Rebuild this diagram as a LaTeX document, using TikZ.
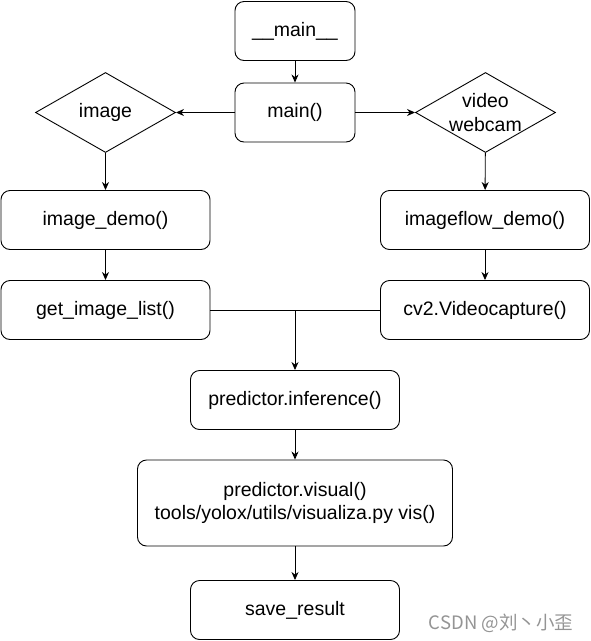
\documentclass[tikz,border=0pt]{standalone}
\usepackage{fontspec}
\setmainfont{Liberation Sans}
\newfontfamily\cjk{Noto Sans CJK SC}
\usetikzlibrary{arrows.meta,shapes.geometric}
\tikzset{
	block/.style={draw, rounded corners=9pt, line width=0.9pt, minimum width=209pt, minimum height=59pt, inner sep=0pt, align=center, font=\fontsize{19.5}{23}\selectfont},
	decision/.style={draw, diamond, line width=0.9pt, minimum width=140pt, minimum height=80pt, inner sep=0pt},
	arr/.style={line width=0.9pt, -{Stealth[length=8pt, width=7pt, inset=2.5pt]}},
	wire/.style={line width=0.9pt}
}

\begin{document}
\begin{tikzpicture}[x=1pt, y=-1pt]
			%%%%% START %%%%%
			
			\useasboundingbox (0, 0) rectangle (591, 641);
			
			\node[block, minimum width=120pt] (mainmod) at (295, 31) {\_\_main\_\_};
			\node[block, minimum width=120pt] (mainfn) at (295, 112.5) {main()};
			
			\node[decision, label={[font=\fontsize{19.5}{23}\selectfont]center:image}] (image) at (105.5, 112.5) {};
			\node[decision, label={[font=\fontsize{19.5}{24}\selectfont, align=center]center:video\\webcam}] (video) at (485.5, 112.5) {};
			
			\node[block] (imgdemo) at (105.5, 220) {image\_demo()};
			\node[block] (flowdemo) at (485, 220) {imageflow\_demo()};
			\node[block] (imglist) at (105.5, 310) {get\_image\_list()};
			\node[block] (capture) at (485, 310) {cv2.Videocapture()};
			
			\node[block] (infer) at (295, 400) {predictor.inference()};
			\node[block, minimum width=315pt, minimum height=86pt] (visual) at (295, 503) {predictor.visual()\\tools/yolox/utils/visualiza.py vis()};
			\node[block] (save) at (295, 610) {save\_result};
			
			\draw[arr] (mainmod) -- (mainfn);
			\draw[arr] (mainfn) -- (image);
			\draw[arr] (mainfn) -- (video);
			\draw[arr] (image) -- (imgdemo);
			\draw[arr] (video) -- (flowdemo);
			\draw[arr] (imgdemo) -- (imglist);
			\draw[arr] (flowdemo) -- (capture);
			
			\draw[wire] (imglist.east) -- (capture.west);
			\draw[arr] (imglist.east -| infer) -- (infer);
			\draw[arr] (infer) -- (visual);
			\draw[arr] (visual) -- (save);
			
			\node[text=black!42, font=\cjk\fontsize{18.5}{22}\selectfont] (mark) at (501, 623) {CSDN @刘丶小歪};
			
			%%%%% END %%%%%
		\end{tikzpicture}
\end{document}
